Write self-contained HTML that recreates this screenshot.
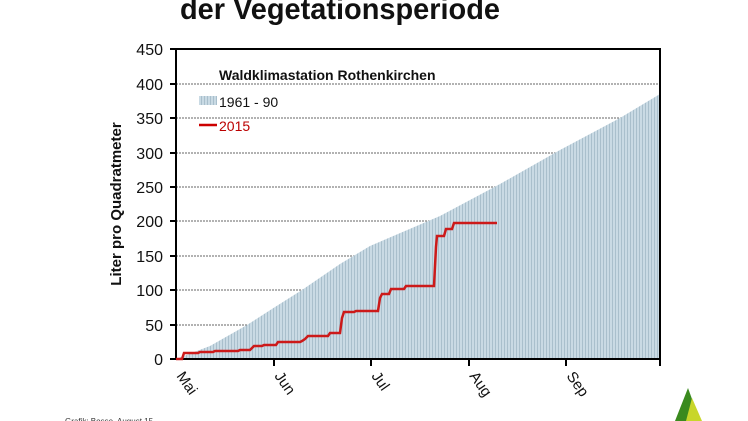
<!DOCTYPE html>
<html><head><meta charset="utf-8"><style>
html,body{margin:0;padding:0;background:#fff;width:748px;height:421px;overflow:hidden}
text{font-family:"Liberation Sans",sans-serif}
</style></head><body>
<svg width="748" height="421" viewBox="0 0 748 421" xmlns="http://www.w3.org/2000/svg">
<defs>
<pattern id="st" width="3" height="4" patternUnits="userSpaceOnUse">
<rect width="3" height="4" fill="#c9dae4"/><rect width="1" height="4" fill="#a9bfcc"/>
</pattern>
</defs>
<text x="340" y="19" text-anchor="middle" font-size="30" font-weight="bold" fill="#111" textLength="320" lengthAdjust="spacingAndGlyphs">der Vegetationsperiode</text>
<g stroke="#333" stroke-width="0.8" stroke-dasharray="2,1">
<line x1="176" y1="84" x2="660" y2="84"/>
<line x1="176" y1="118" x2="660" y2="118"/>
<line x1="176" y1="153" x2="660" y2="153"/>
<line x1="176" y1="187" x2="660" y2="187"/>
<line x1="176" y1="221" x2="660" y2="221"/>
<line x1="176" y1="256" x2="660" y2="256"/>
<line x1="176" y1="290" x2="660" y2="290"/>
<line x1="176" y1="325" x2="660" y2="325"/>
</g>
<polygon fill="url(#st)" points="176,359 210,346 247,325 275,307 302,290 340,264 370,246 440,216 500,184 560,150 620,118 660,94 660,359"/>
<rect x="176" y="49" width="484" height="310" fill="none" stroke="#000" stroke-width="2"/>
<g stroke="#000" stroke-width="2">
<line x1="170" y1="49" x2="176" y2="49"/><line x1="170" y1="84" x2="176" y2="84"/><line x1="170" y1="118" x2="176" y2="118"/><line x1="170" y1="153" x2="176" y2="153"/><line x1="170" y1="187" x2="176" y2="187"/><line x1="170" y1="221" x2="176" y2="221"/><line x1="170" y1="256" x2="176" y2="256"/><line x1="170" y1="290" x2="176" y2="290"/><line x1="170" y1="325" x2="176" y2="325"/><line x1="170" y1="359" x2="176" y2="359"/>
<line x1="274" y1="359" x2="274" y2="366"/><line x1="371" y1="359" x2="371" y2="366"/><line x1="469" y1="359" x2="469" y2="366"/><line x1="566" y1="359" x2="566" y2="366"/><line x1="660" y1="359" x2="660" y2="366"/>
</g>
<g font-size="16" text-anchor="end" fill="#111">
<text x="163" y="55">450</text><text x="163" y="90">400</text><text x="163" y="124">350</text><text x="163" y="159">300</text><text x="163" y="193">250</text><text x="163" y="227">200</text><text x="163" y="262">150</text><text x="163" y="296">100</text><text x="163" y="331">50</text><text x="163" y="365">0</text>
</g>
<g font-size="15" fill="#111">
<text transform="translate(176,376) rotate(55)">Mai</text>
<text transform="translate(274,376) rotate(55)">Jun</text>
<text transform="translate(371,376) rotate(55)">Jul</text>
<text transform="translate(469,376) rotate(55)">Aug</text>
<text transform="translate(566,376) rotate(55)">Sep</text>
</g>
<text transform="translate(121,204) rotate(-90)" text-anchor="middle" font-size="15" font-weight="bold" fill="#111">Liter pro Quadratmeter</text>
<text x="219" y="80" font-size="14" font-weight="bold" fill="#111">Waldklimastation Rothenkirchen</text>
<rect x="199" y="96" width="18" height="9" fill="url(#st)"/>
<text x="219" y="107" font-size="14" fill="#111">1961 - 90</text>
<line x1="199" y1="125" x2="217" y2="125" stroke="#c00" stroke-width="2.5"/>
<text x="219" y="131" font-size="14" fill="#b00">2015</text>
<polyline fill="none" stroke="#cc1a1a" stroke-width="2.5" points="176,359 182,359 184,353 198,353 200,352 213,352 215,351 238,351 240,350 250,350 252,348 254,346 262,346 264,345 276,345 278,342 300,342 302,341 305,339 308,336 328,336 330,333 340,333 342,318 344,312 354,312 356,311 378,311 380,298 382,294 389,294 391,289 404,289 406,286 434,286 436,247 437,236 444,236 446,229 452,229 454,223 497,223"/>
<text x="65" y="424" font-size="8" fill="#333">Grafik: Bosse, August 15</text>
<polygon points="675,421 688,388 700,421" fill="#3a8a1e"/>
<polygon points="686,421 692,398 702,421" fill="#c8d62a"/>
</svg>
</body></html>
